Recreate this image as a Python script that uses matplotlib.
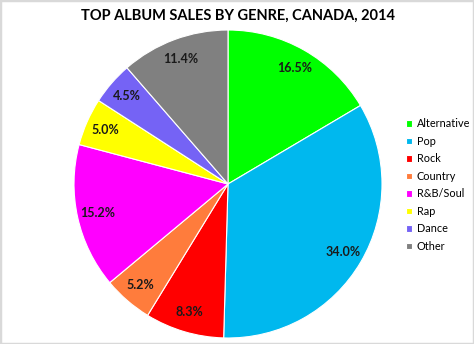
import matplotlib.pyplot as plt
from matplotlib.patches import Rectangle

genres = ["Alternative", "Pop", "Rock", "Country", "R&B/Soul", "Rap", "Dance", "Other"]
shares = [16.5, 34.0, 8.3, 5.2, 15.2, 5.0, 4.5, 11.4]
colors = ["#00FF00", "#00B8EE", "#FF0000", "#FF7C3C", "#FF00FF", "#FFFF00", "#7563F5", "#808080"]
title = "TOP ALBUM SALES BY GENRE, CANADA, 2014"

plt.rcParams["font.family"] = ["Lato", "DejaVu Sans"]

fig = plt.figure(figsize=(4.74, 3.44), dpi=100)
fig.patch.set_facecolor("white")

# square axes holding the pie, placed in pixel terms of the 474x344 canvas
ax = fig.add_axes([74 / 474, 6 / 344, 308 / 474, 308 / 344])
wedges, texts, autotexts = ax.pie(
    shares,
    colors=colors,
    startangle=90,
    counterclock=False,
    autopct="%.1f%%",
    pctdistance=0.87,
    wedgeprops=dict(edgecolor="white", linewidth=0.8),
    textprops=dict(fontsize=9, fontweight="bold", color="#1a1a1a"),
)
ax.set_xlim(-1, 1)
ax.set_ylim(-1, 1)
ax.set_aspect("equal")
ax.axis("off")

fig.text(238 / 474, 1 - 16 / 344, title, ha="center", va="center",
         fontsize=10.5, fontweight="bold", color="black")

fig.legend(wedges, genres, loc="center left", bbox_to_anchor=(406 / 474, 0.462),
           frameon=False, fontsize=7.8, handlelength=0.55, handleheight=0.55,
           handletextpad=0.45, labelspacing=0.6, borderpad=0, borderaxespad=0)

fig.add_artist(Rectangle((0, 0), 1, 1, transform=fig.transFigure, fill=False,
                         edgecolor="#d9d9d9", linewidth=2.5))

fig.savefig("out.png", dpi=100)
